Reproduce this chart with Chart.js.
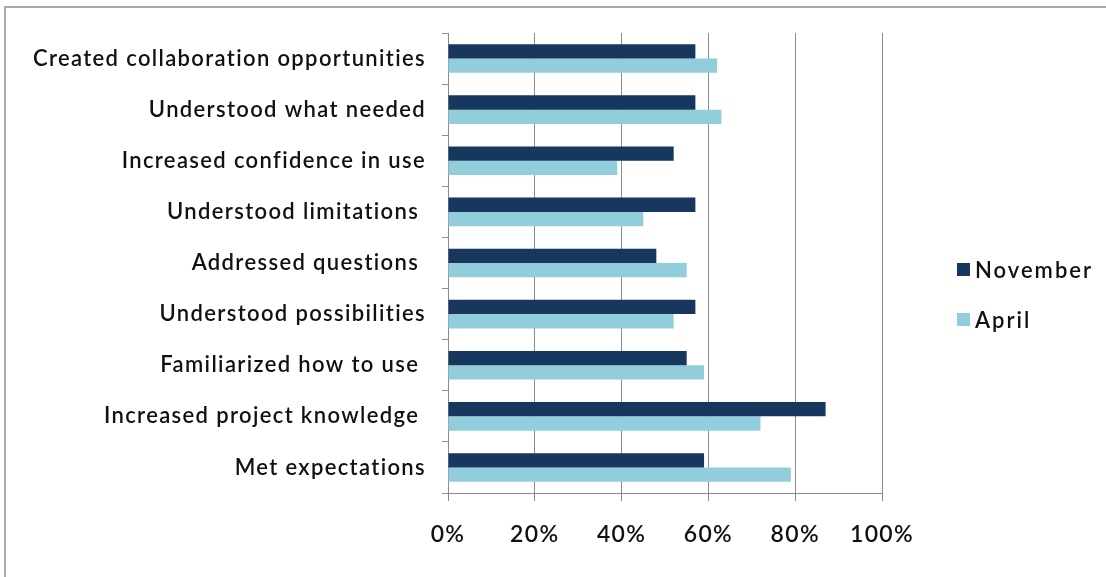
<!DOCTYPE html>
<html>
<head>
<meta charset="utf-8">
<script src="https://cdn.jsdelivr.net/npm/chart.js@4.4.1/dist/chart.umd.min.js"></script>
<style>
  html, body { margin: 0; padding: 0; background: #fff; }
  #wrap { position: relative; width: 1106px; height: 577px; overflow: hidden; }
  #frame { position: absolute; left: 4px; top: 6px; width: 1200px; height: 700px;
           border-left: 2px solid #a9a9a9; border-top: 2px solid #a9a9a9; }
  #chartCanvas { position: absolute; left: 0; top: 0; }
  #legend { position: absolute; left: 957px; top: 255px; font-family: Lato, 'Open Sans', sans-serif;
            font-size: 22px; font-weight: 600; color: #111; letter-spacing: 2px; }
  .item { display: flex; align-items: center; height: 28px; margin-bottom: 22px; }
  .swatch { width: 13px; height: 13px; margin-right: 5px; }
</style>
</head>
<body>
<div id="wrap">
  <div id="frame"></div>
  <canvas id="chartCanvas" width="1106" height="577"></canvas>
  <div id="legend"></div>
</div>
<script>
document.addEventListener('DOMContentLoaded', function() {
    // Data
    const categories = [
        'Created collaboration opportunities',
        'Understood what needed',
        'Increased confidence in use',
        'Understood limitations ',
        'Addressed questions ',
        'Understood possibilities',
        'Familiarized how to use ',
        'Increased project knowledge ',
        'Met expectations'
    ];
    const seriesNames = ['November', 'April'];
    const novemberValues = [57, 57, 52, 57, 48, 57, 55, 87, 59];
    const aprilValues = [62, 63, 39, 45, 55, 52, 59, 72, 79];
    const xTicks = [0, 20, 40, 60, 80, 100];

    const colors = ['#17375e', '#92cddc'];
    const gridColor = '#8c8c8c';
    const fontFamily = "Lato, 'Open Sans', sans-serif";

    const canvas = document.getElementById('chartCanvas');

    // widen the text a little, like the original's stretched labels
    const spacingPlugin = {
        id: 'spacing',
        beforeDraw: function(chart) { chart.ctx.letterSpacing = '1.35px'; }
    };

    new Chart(canvas, {
        type: 'bar',
        data: {
            labels: categories,
            datasets: [
                { label: seriesNames[0], data: novemberValues, backgroundColor: colors[0] },
                { label: seriesNames[1], data: aprilValues, backgroundColor: colors[1] }
            ]
        },
        options: {
            indexAxis: 'y',
            responsive: false,
            animation: false,
            layout: { padding: { left: 0, top: 33, right: 224, bottom: 0 } },
            datasets: {
                bar: { barPercentage: 1, categoryPercentage: 0.56 }
            },
            plugins: {
                legend: { display: false },
                tooltip: { enabled: false }
            },
            scales: {
                x: {
                    min: 0,
                    max: 100,
                    afterBuildTicks: function(scale) {
                        scale.ticks = xTicks.map(v => ({ value: v }));
                    },
                    afterFit: function(scale) { scale.height = 84; },
                    grid: { color: gridColor, lineWidth: 1, tickLength: 8 },
                    border: { color: gridColor, width: 1 },
                    ticks: {
                        color: '#111',
                        padding: 20,
                        font: { family: fontFamily, size: 23, weight: '600' },
                        callback: function(value) { return value + '%'; }
                    }
                },
                y: {
                    afterFit: function(scale) { scale.width = 448; },
                    grid: { color: gridColor, drawOnChartArea: false, tickLength: 6, offset: true },
                    border: { color: gridColor, width: 1 },
                    ticks: {
                        color: '#111',
                        padding: 16,
                        font: { family: fontFamily, size: 22, weight: '600' }
                    }
                }
            }
        },
        plugins: [spacingPlugin]
    });

    // Legend built from the series names and colours
    const legend = document.getElementById('legend');
    seriesNames.forEach(function(name, i) {
        const item = document.createElement('div');
        item.className = 'item';
        const sw = document.createElement('span');
        sw.className = 'swatch';
        sw.style.background = colors[i];
        const txt = document.createElement('span');
        txt.textContent = name;
        item.appendChild(sw);
        item.appendChild(txt);
        legend.appendChild(item);
    });
});
</script>
</body>
</html>
